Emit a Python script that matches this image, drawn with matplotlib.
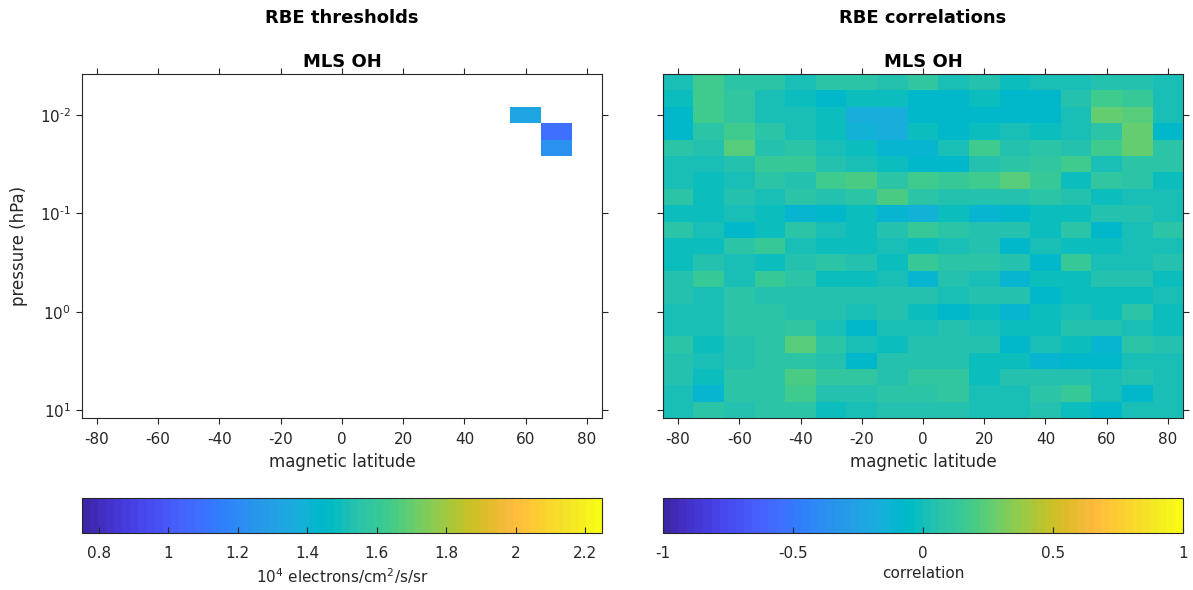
import numpy as np
import matplotlib
matplotlib.use('Agg')
import matplotlib.pyplot as plt
from matplotlib.colors import ListedColormap, Normalize
from matplotlib.ticker import FixedLocator, NullLocator, FormatStrFormatter, FuncFormatter

plt.rcParams['font.family'] = 'DejaVu Sans'
plt.rcParams['axes.unicode_minus'] = False

# MATLAB parula (64 colours)
parula = ListedColormap([
    [0.2422, 0.1504, 0.6603], [0.2504, 0.1650, 0.7076], [0.2578, 0.1818, 0.7511], [0.2647, 0.1978, 0.7952],
    [0.2706, 0.2147, 0.8364], [0.2751, 0.2342, 0.8710], [0.2783, 0.2559, 0.8991], [0.2803, 0.2782, 0.9221],
    [0.2813, 0.3006, 0.9414], [0.2810, 0.3228, 0.9579], [0.2795, 0.3447, 0.9717], [0.2760, 0.3667, 0.9829],
    [0.2699, 0.3892, 0.9906], [0.2602, 0.4123, 0.9952], [0.2440, 0.4358, 0.9988], [0.2206, 0.4603, 0.9973],
    [0.1963, 0.4847, 0.9892], [0.1834, 0.5074, 0.9798], [0.1786, 0.5289, 0.9682], [0.1764, 0.5499, 0.9520],
    [0.1687, 0.5703, 0.9359], [0.1540, 0.5902, 0.9218], [0.1460, 0.6091, 0.9079], [0.1380, 0.6276, 0.8973],
    [0.1248, 0.6459, 0.8883], [0.1113, 0.6635, 0.8763], [0.0952, 0.6798, 0.8598], [0.0689, 0.6948, 0.8394],
    [0.0297, 0.7082, 0.8163], [0.0036, 0.7203, 0.7917], [0.0067, 0.7312, 0.7660], [0.0433, 0.7411, 0.7394],
    [0.0964, 0.7500, 0.7120], [0.1408, 0.7584, 0.6842], [0.1717, 0.7670, 0.6554], [0.1938, 0.7758, 0.6251],
    [0.2161, 0.7843, 0.5923], [0.2470, 0.7918, 0.5567], [0.2906, 0.7973, 0.5188], [0.3406, 0.8008, 0.4789],
    [0.3909, 0.8029, 0.4354], [0.4456, 0.8024, 0.3909], [0.5044, 0.7993, 0.3480], [0.5616, 0.7942, 0.3045],
    [0.6174, 0.7876, 0.2612], [0.6720, 0.7793, 0.2227], [0.7242, 0.7698, 0.1910], [0.7738, 0.7598, 0.1646],
    [0.8203, 0.7498, 0.1535], [0.8634, 0.7406, 0.1596], [0.9035, 0.7330, 0.1774], [0.9393, 0.7288, 0.2100],
    [0.9728, 0.7298, 0.2394], [0.9956, 0.7434, 0.2371], [0.9970, 0.7659, 0.2199], [0.9952, 0.7893, 0.2028],
    [0.9892, 0.8136, 0.1885], [0.9786, 0.8386, 0.1766], [0.9676, 0.8639, 0.1643], [0.9610, 0.8890, 0.1537],
    [0.9597, 0.9135, 0.1423], [0.9628, 0.9373, 0.1265], [0.9691, 0.9606, 0.1064], [0.9769, 0.9839, 0.0805]])

# ---- data ----
lat = [-80, -70, -60, -50, -40, -30, -20, -10, 0, 10, 20, 30, 40, 50, 60, 70, 80]
pressure = [0.00464, 0.00681, 0.01, 0.0147, 0.0215, 0.0316, 0.0464, 0.0681, 0.1, 0.147, 0.215,
            0.316, 0.464, 0.681, 1.0, 1.47, 2.15, 3.16, 4.64, 6.81, 10.0]

# thresholds (only three bins have a value)
thr_lat = [60, 70, 70]
thr_p = [0.01, 0.0147, 0.0215]
thr_val = [1.32, 1.09, 1.23]

# correlations, rows = pressure levels (top to bottom), cols = lat
corr = [
    [0.00, 0.16, 0.07, 0.07, 0.02, 0.09, 0.09, 0.06, 0.10, 0.02, 0.06, -0.03, 0.01, 0.01, 0.05, 0.05, 0.02],
    [-0.01, 0.16, 0.12, 0.02, -0.03, -0.07, -0.03, -0.03, -0.07, -0.07, -0.03, -0.07, -0.07, 0.04, 0.16, 0.13, 0.02],
    [-0.07, 0.16, 0.12, 0.02, 0.02, -0.03, -0.17, -0.17, -0.07, -0.07, -0.08, -0.07, -0.07, 0.02, 0.28, 0.24, 0.02],
    [-0.07, 0.09, 0.16, 0.07, 0.02, -0.03, -0.14, -0.17, -0.03, -0.07, -0.03, 0.02, -0.03, 0.02, 0.07, 0.28, -0.07],
    [0.09, 0.04, 0.22, 0.04, 0.09, 0.02, -0.03, -0.12, -0.12, 0.02, 0.16, 0.04, 0.07, 0.04, 0.16, 0.28, 0.07],
    [0.02, 0.02, 0.04, 0.13, 0.13, 0.04, 0.01, -0.03, -0.08, -0.08, 0.04, 0.09, 0.12, 0.16, 0.01, 0.09, 0.07],
    [0.02, -0.03, 0.01, 0.09, 0.04, 0.16, 0.21, 0.07, 0.16, 0.13, 0.16, 0.22, 0.13, -0.01, 0.12, 0.09, -0.03],
    [0.07, -0.03, 0.04, 0.01, 0.09, 0.04, 0.07, 0.19, 0.07, 0.04, 0.04, 0.04, 0.07, 0.04, -0.03, 0.01, 0.01],
    [-0.03, -0.03, 0.02, -0.03, -0.10, -0.07, -0.03, -0.10, -0.14, -0.01, -0.10, -0.07, -0.03, -0.03, 0.04, 0.04, 0.01],
    [0.07, 0.01, -0.07, -0.01, 0.09, 0.01, -0.03, 0.04, 0.13, 0.09, 0.04, 0.04, -0.03, 0.09, -0.07, 0.01, 0.07],
    [-0.03, -0.03, 0.09, 0.13, 0.01, -0.03, -0.03, 0.01, -0.03, 0.01, 0.04, -0.07, 0.02, -0.03, -0.03, 0.01, 0.01],
    [-0.03, 0.04, 0.01, -0.03, 0.04, 0.09, 0.04, -0.03, 0.13, 0.09, 0.09, 0.04, -0.07, 0.13, 0.01, 0.01, 0.04],
    [0.04, 0.13, 0.01, 0.13, 0.07, -0.03, -0.03, 0.01, -0.10, 0.04, 0.01, -0.10, -0.03, -0.03, 0.04, 0.04, -0.03],
    [0.04, 0.01, 0.07, 0.04, 0.04, 0.04, 0.04, 0.04, 0.04, 0.01, 0.04, 0.04, -0.07, -0.03, -0.03, -0.03, 0.01],
    [0.01, 0.01, 0.07, 0.09, 0.04, 0.04, 0.01, 0.04, -0.03, -0.07, -0.03, -0.10, -0.03, 0.01, -0.03, 0.07, -0.03],
    [0.01, 0.01, 0.07, 0.09, 0.12, 0.01, -0.07, 0.01, 0.01, 0.04, 0.01, -0.03, -0.03, 0.04, 0.04, 0.01, -0.03],
    [0.09, -0.03, 0.04, 0.09, 0.22, 0.07, 0.01, -0.03, 0.04, 0.04, 0.04, -0.07, 0.01, -0.03, -0.10, 0.09, 0.04],
    [0.04, 0.01, 0.04, 0.09, 0.09, 0.04, -0.07, 0.04, 0.04, 0.04, -0.03, -0.03, -0.10, -0.07, -0.07, 0.01, 0.01],
    [0.04, -0.03, 0.09, 0.07, 0.19, 0.12, 0.12, 0.04, 0.12, 0.12, -0.03, 0.04, 0.04, 0.04, 0.01, 0.04, 0.01],
    [0.01, -0.10, 0.07, 0.09, 0.16, 0.04, 0.04, 0.07, 0.07, 0.12, 0.01, 0.01, 0.07, 0.13, 0.01, -0.07, 0.01],
    [0.01, 0.09, 0.04, 0.07, 0.07, -0.03, 0.01, 0.04, 0.04, 0.04, 0.01, 0.01, 0.04, -0.03, -0.07, 0.01, 0.01],
]

# ---- grids ----
lat_a = np.array(lat, dtype=float)
lat_edges = np.concatenate([lat_a - 5, [lat_a[-1] + 5]])
logp = np.log10(pressure)
mid = (logp[:-1] + logp[1:]) / 2
p_edges = 10 ** np.concatenate([[logp[0] - (mid[0] - logp[0])], mid, [logp[-1] + (logp[-1] - mid[-1])]])

thr_grid = np.full((len(pressure), len(lat)), np.nan)
for la, pp, v in zip(thr_lat, thr_p, thr_val):
    thr_grid[pressure.index(pp), lat.index(la)] = v
thr_grid = np.ma.masked_invalid(thr_grid)

W, H = 1193, 590
fig = plt.figure(figsize=(W / 100, H / 100), dpi=100)
edge = '#262626'


def px(x0, y0, x1, y1):
    return [x0 / W, 1 - y1 / H, (x1 - x0) / W, (y1 - y0) / H]


def pow10(v, pos):
    e = int(round(np.log10(v)))
    if e < 0:
        return r'$\mathregular{10^{\text{-}%d}}$' % (-e)
    return r'$\mathregular{10^{%d}}$' % e


def style_axes(ax, show_y):
    ax.set_yscale('log')
    ax.set_xlim(lat_edges[0], lat_edges[-1])
    ax.set_ylim(p_edges[-1], p_edges[0])
    ax.xaxis.set_major_locator(FixedLocator(range(-80, 81, 20)))
    ax.yaxis.set_major_locator(FixedLocator([1e-2, 1e-1, 1e0, 1e1]))
    ax.yaxis.set_major_formatter(FuncFormatter(pow10))
    ax.yaxis.set_minor_locator(NullLocator())
    ax.tick_params(direction='out', length=4, width=0.8, top=True, right=True,
                   labelsize=11, colors=edge, labelleft=show_y)
    ax.tick_params(axis='x', pad=6)
    for s in ax.spines.values():
        s.set_color(edge)
        s.set_linewidth(0.8)
    ax.set_xlabel('magnetic latitude', fontsize=12, color=edge, labelpad=4)
    ax.text(0.5, 1 + 12 / 344.3, 'MLS OH', transform=ax.transAxes, ha='center', va='center',
            fontsize=13, fontweight='bold')


ax1 = fig.add_axes(px(81.5, 74, 602.3, 418.3))
ax2 = fig.add_axes(px(662.7, 74, 1183.3, 418.3))

norm1 = Normalize(0.75, 2.25)
norm2 = Normalize(-1, 1)
m1 = ax1.pcolormesh(lat_edges, p_edges, thr_grid, cmap=parula, norm=norm1)
m2 = ax2.pcolormesh(lat_edges, p_edges, np.array(corr), cmap=parula, norm=norm2)
style_axes(ax1, True)
style_axes(ax2, False)
ax1.set_ylabel('pressure (hPa)', fontsize=12, color=edge)
ax1.yaxis.set_label_coords((28 - 81.5) / 520.8, 0.5)

fig.text(342 / W, 1 - 18 / H, 'RBE thresholds', ha='center', va='center', fontsize=13, fontweight='bold')
fig.text(923 / W, 1 - 18 / H, 'RBE correlations', ha='center', va='center', fontsize=13, fontweight='bold')

cax1 = fig.add_axes(px(81.5, 497.7, 602.3, 533.3))
cax2 = fig.add_axes(px(662.7, 497.7, 1183.3, 533.3))
cb1 = fig.colorbar(m1, cax=cax1, orientation='horizontal')
cb2 = fig.colorbar(m2, cax=cax2, orientation='horizontal')
cb1.set_ticks([0.8, 1.0, 1.2, 1.4, 1.6, 1.8, 2.0, 2.2])
cb2.set_ticks([-1, -0.5, 0, 0.5, 1])
for cb, lab in [(cb1, r'10$^4$ electrons/cm$^2$/s/sr'), (cb2, 'correlation')]:
    cb.ax.xaxis.set_major_formatter(FormatStrFormatter('%g'))
    cb.ax.xaxis.set_minor_locator(NullLocator())
    cb.ax.tick_params(direction='in', length=4, width=0.8, labelsize=11, colors=edge, pad=9)
    cb.outline.set_edgecolor(edge)
    cb.outline.set_linewidth(0.8)
    cb.set_label(lab, fontsize=11, color=edge, labelpad=4)

fig.savefig('out.png', dpi=100)
